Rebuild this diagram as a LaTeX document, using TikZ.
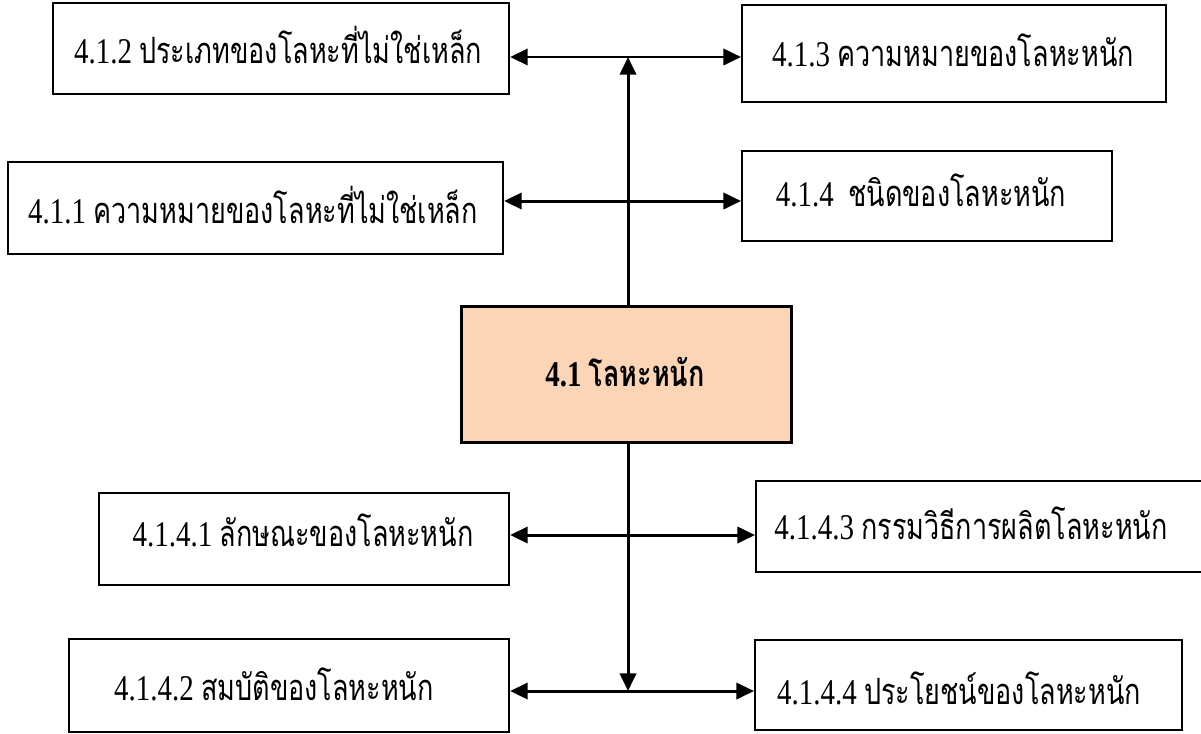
\documentclass[tikz,border=0pt]{standalone}
\usepackage{fontspec}
\setmainfont[FakeStretch=0.8]{Liberation Serif}
\newfontfamily\thaifont[Script=Thai,FakeStretch=0.745]{Loma}
\usetikzlibrary{arrows.meta}
\newcommand{\lbl}[2]{#1\ {\thaifont #2}}
\begin{document}
\begin{tikzpicture}[x=0.01cm,y=-0.01cm,
  box/.style={draw, line width=0.6pt, fill=white, anchor=north west, inner sep=0pt},
  mainbox/.style={box, fill=peach, line width=0.9pt},
  txt/.style={font=\fontsize{10.3}{12}\selectfont, inner sep=0pt},
  link/.style={line width=0.85pt, {Triangle[length=5pt,width=4.6pt]}-{Triangle[length=5pt,width=4.6pt]}},
  stem/.style={line width=0.85pt, -{Triangle[length=5pt,width=4.6pt]}}]
\definecolor{peach}{HTML}{FBD5B5}
\useasboundingbox (0,0) rectangle (1201,733);
% boxes: corner, width, height in pixel units
\node[box, minimum width=456*0.01cm, minimum height=91*0.01cm] (b412) at (52,2) {};
\node[box, minimum width=424*0.01cm, minimum height=97*0.01cm] (b413) at (741,4) {};
\node[box, minimum width=495*0.01cm, minimum height=92*0.01cm] (b411) at (7,161) {};
\node[box, minimum width=370*0.01cm, minimum height=90*0.01cm] (b414) at (741,150) {};
\node[mainbox, minimum width=330*0.01cm, minimum height=136*0.01cm] (core) at (460,305) {};
\node[box, minimum width=410*0.01cm, minimum height=92*0.01cm] (b4141) at (98,492) {};
\node[box, minimum width=446*0.01cm, minimum height=91*0.01cm] (b4143) at (755,480) {};
\node[box, minimum width=440*0.01cm, minimum height=93*0.01cm] (b4142) at (68,638) {};
\node[box, minimum width=427*0.01cm, minimum height=90*0.01cm] (b4144) at (754,639) {};
% labels
\node[txt] (t412) at (278,45) {\lbl{4.1.2}{ประเภทของโลหะที่ไม่ใช่เหล็ก}};
\node[txt] (t413) at (953,50) {\lbl{4.1.3}{ความหมายของโลหะหนัก}};
\node[txt] (t411) at (253,205) {\lbl{4.1.1}{ความหมายของโลหะที่ไม่ใช่เหล็ก}};
\node[txt] (t414) at (921,190) {\lbl{4.1.4\ }{ชนิดของโลหะหนัก}};
\node[txt, font=\fontsize{10.3}{12}\selectfont\bfseries] (tcore) at (625,372) {\lbl{4.1}{โลหะหนัก}};
\node[txt] (t4141) at (303,530) {\lbl{4.1.4.1}{ลักษณะของโลหะหนัก}};
\node[txt] (t4143) at (971,523) {\lbl{4.1.4.3}{กรรมวิธีการผลิตโลหะหนัก}};
\node[txt] (t4142) at (274,684) {\lbl{4.1.4.2}{สมบัติของโลหะหนัก}};
\node[txt] (t4144) at (959,688) {\lbl{4.1.4.4}{ประโยชน์ของโลหะหนัก}};
% junctions on the trunk
\coordinate (jtop) at (628,57);
\coordinate (jmid) at (628,201);
\coordinate (jlow) at (628,535);
\coordinate (jbot) at (628,691);
% upper branch
\draw[stem] (core.north -| jtop) -- (jtop);
\draw[link] (b412.east |- jtop) -- (b413.west |- jtop);
\draw[link] (b411.east |- jmid) -- (b414.west |- jmid);
% lower branch
\draw[stem] (core.south -| jbot) -- (jbot);
\draw[link] (b4141.east |- jlow) -- (b4143.west |- jlow);
\draw[link] (b4142.east |- jbot) -- (b4144.west |- jbot);
\end{tikzpicture}
\end{document}
